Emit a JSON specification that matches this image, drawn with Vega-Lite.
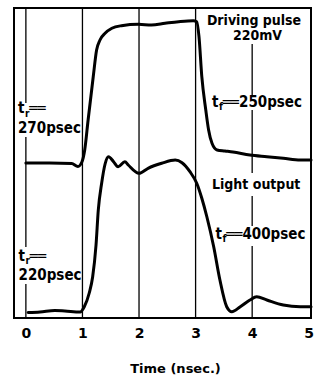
{
  "$schema": "https://vega.github.io/schema/vega-lite/v6.json",
  "width": 297,
  "height": 310,
  "autosize": "none",
  "padding": {"left": 14, "top": 8, "right": 3, "bottom": 65},
  "background": "white",
  "config": {
    "view": {"stroke": "black", "strokeWidth": 2},
    "axis": {
      "domain": false, "ticks": false, "grid": false,
      "labelFont": "DejaVu Sans", "labelFontSize": 14, "labelFontWeight": "bold", "labelColor": "black",
      "labelBaseline": "alphabetic", "labelPadding": 19, "labelFlush": false, "labelOverlap": false,
      "titleFont": "DejaVu Sans", "titleFontSize": 13, "titleFontWeight": "bold", "titleColor": "black",
      "titleX": 161, "titleY": 54, "titleBaseline": "alphabetic", "titleAnchor": "middle"
    },
    "text": {"font": "DejaVu Sans Condensed", "fontWeight": "bold", "color": "black"}
  },
  "layer": [
    {
      "data": {"values": [
        {"g": 0, "lo": 215, "hi": 310}, {"g": 0, "lo": 71, "hi": 181}, {"g": 0, "lo": 0, "hi": 34},
        {"g": 1, "lo": 0, "hi": 310}, {"g": 2, "lo": 0, "hi": 310}, {"g": 3, "lo": 0, "hi": 310},
        {"g": 4, "lo": 221, "hi": 274}, {"g": 4, "lo": 145, "hi": 208}, {"g": 4, "lo": 92, "hi": 122}, {"g": 4, "lo": 0, "hi": 72}
      ]},
      "mark": {"type": "rule", "color": "black", "strokeWidth": 1.3},
      "encoding": {
        "x": {"field": "g", "type": "quantitative", "scale": {"domain": [-0.21, 5.04], "nice": false, "zero": false},
              "axis": {"values": [0, 1, 2, 3, 4, 5], "title": "Time (nsec.)", "format": "d"}},
        "y": {"field": "lo", "type": "quantitative", "scale": {"domain": [0, 310], "nice": false}, "axis": null},
        "y2": {"field": "hi"}
      }
    },
    {
      "data": {"values": [
        {"s": "drive", "t": 0.0, "v": 155}, {"s": "drive", "t": 0.42, "v": 155}, {"s": "drive", "t": 0.81, "v": 154.5},
        {"s": "drive", "t": 0.92, "v": 151.5}, {"s": "drive", "t": 0.99, "v": 156}, {"s": "drive", "t": 1.04, "v": 168},
        {"s": "drive", "t": 1.10, "v": 198}, {"s": "drive", "t": 1.19, "v": 241}, {"s": "drive", "t": 1.25, "v": 268},
        {"s": "drive", "t": 1.31, "v": 278}, {"s": "drive", "t": 1.40, "v": 284.7}, {"s": "drive", "t": 1.52, "v": 289.7},
        {"s": "drive", "t": 1.69, "v": 292.3}, {"s": "drive", "t": 1.99, "v": 293.7}, {"s": "drive", "t": 2.22, "v": 293},
        {"s": "drive", "t": 2.46, "v": 294.7}, {"s": "drive", "t": 2.70, "v": 296.3}, {"s": "drive", "t": 2.96, "v": 297.3},
        {"s": "drive", "t": 3.02, "v": 296.3}, {"s": "drive", "t": 3.06, "v": 281.3}, {"s": "drive", "t": 3.11, "v": 241.3},
        {"s": "drive", "t": 3.18, "v": 208}, {"s": "drive", "t": 3.23, "v": 188}, {"s": "drive", "t": 3.29, "v": 174.7},
        {"s": "drive", "t": 3.38, "v": 168}, {"s": "drive", "t": 3.52, "v": 167}, {"s": "drive", "t": 3.66, "v": 166},
        {"s": "drive", "t": 3.96, "v": 163}, {"s": "drive", "t": 4.26, "v": 161.3}, {"s": "drive", "t": 4.55, "v": 159.7},
        {"s": "drive", "t": 4.85, "v": 158}, {"s": "drive", "t": 5.04, "v": 158},
        {"s": "light", "t": 0.04, "v": 5.5}, {"s": "light", "t": 0.25, "v": 6}, {"s": "light", "t": 0.51, "v": 7.5},
        {"s": "light", "t": 0.69, "v": 7}, {"s": "light", "t": 0.96, "v": 6}, {"s": "light", "t": 1.03, "v": 11},
        {"s": "light", "t": 1.12, "v": 25}, {"s": "light", "t": 1.18, "v": 41}, {"s": "light", "t": 1.24, "v": 73},
        {"s": "light", "t": 1.28, "v": 108}, {"s": "light", "t": 1.34, "v": 135}, {"s": "light", "t": 1.40, "v": 154},
        {"s": "light", "t": 1.46, "v": 161.3}, {"s": "light", "t": 1.55, "v": 156.3}, {"s": "light", "t": 1.63, "v": 151.3},
        {"s": "light", "t": 1.75, "v": 156.3}, {"s": "light", "t": 1.81, "v": 153}, {"s": "light", "t": 2.00, "v": 144.7},
        {"s": "light", "t": 2.16, "v": 149.7}, {"s": "light", "t": 2.40, "v": 154.7}, {"s": "light", "t": 2.64, "v": 158},
        {"s": "light", "t": 2.76, "v": 155.3}, {"s": "light", "t": 2.90, "v": 146.3}, {"s": "light", "t": 3.02, "v": 134.7},
        {"s": "light", "t": 3.11, "v": 119.7}, {"s": "light", "t": 3.20, "v": 101}, {"s": "light", "t": 3.32, "v": 71.3},
        {"s": "light", "t": 3.43, "v": 38}, {"s": "light", "t": 3.55, "v": 11.3}, {"s": "light", "t": 3.64, "v": 6.3},
        {"s": "light", "t": 3.79, "v": 11.3}, {"s": "light", "t": 3.96, "v": 18}, {"s": "light", "t": 4.08, "v": 21.3},
        {"s": "light", "t": 4.26, "v": 18}, {"s": "light", "t": 4.55, "v": 13}, {"s": "light", "t": 4.85, "v": 11.3},
        {"s": "light", "t": 5.04, "v": 11.3}
      ]},
      "mark": {"type": "line", "color": "black", "strokeWidth": 3, "interpolate": "monotone", "strokeJoin": "round", "strokeCap": "round"},
      "encoding": {
        "x": {"field": "t", "type": "quantitative"},
        "y": {"field": "v", "type": "quantitative"},
        "detail": {"field": "s"}
      }
    },
    {
      "data": {"values": [
        {"x": 3.2, "y": 292.7, "label": "Driving pulse"},
        {"x": 3.66, "y": 278, "label": "220mV"},
        {"x": 3.29, "y": 129, "label": "Light output"}
      ]},
      "mark": {"type": "text", "align": "left", "baseline": "alphabetic", "fontSize": 14},
      "encoding": {
        "x": {"field": "x", "type": "quantitative"},
        "y": {"field": "y", "type": "quantitative"},
        "text": {"field": "label"}
      }
    },
    {
      "data": {"values": [
        {"x": -0.14, "y": 205, "label": "t"}, {"x": 0.06, "y": 205, "label": "══"}, {"x": -0.14, "y": 185, "label": "270psec"},
        {"x": -0.13, "y": 57, "label": "t"}, {"x": 0.07, "y": 57, "label": "══"}, {"x": -0.13, "y": 38, "label": "220psec"},
        {"x": 3.29, "y": 211, "label": "t"}, {"x": 3.48, "y": 211, "label": "══250psec"},
        {"x": 3.35, "y": 79, "label": "t"}, {"x": 3.54, "y": 79, "label": "══400psec"}
      ]},
      "mark": {"type": "text", "align": "left", "baseline": "alphabetic", "fontSize": 15},
      "encoding": {
        "x": {"field": "x", "type": "quantitative"},
        "y": {"field": "y", "type": "quantitative"},
        "text": {"field": "label"}
      }
    },
    {
      "data": {"values": [
        {"x": -0.015, "y": 201.5, "label": "r"},
        {"x": -0.005, "y": 54, "label": "r"},
        {"x": 3.415, "y": 208, "label": "f"},
        {"x": 3.475, "y": 76, "label": "f"}
      ]},
      "mark": {"type": "text", "align": "left", "baseline": "alphabetic", "fontSize": 10},
      "encoding": {
        "x": {"field": "x", "type": "quantitative"},
        "y": {"field": "y", "type": "quantitative"},
        "text": {"field": "label"}
      }
    }
  ]
}
